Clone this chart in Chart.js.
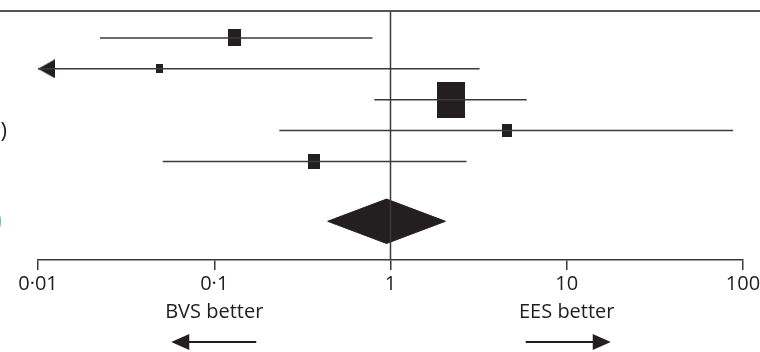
<!doctype html>
<html lang="en">
<head>
  <meta charset="utf-8">
  <title>Forest plot</title>
  <style>
    html, body { margin: 0; padding: 0; background: #fff; overflow: hidden; }
    #wrap { width: 760px; height: 352px; }
  </style>
</head>
<body>
  <div id="wrap"><canvas id="myChart"></canvas></div>
  <script src="https://cdn.jsdelivr.net/npm/chart.js"></script>
  <script>
    // one row per study, top to bottom
    const rows = [1, 2, 3, 4, 5];
    const estimate = [0.13, 0.049, 2.19, 4.56, 0.37];
    const lower = [0.0225, 0.005, 0.81, 0.234, 0.051];
    const upper = [0.79, 3.2, 5.93, 87.7, 2.7];
    const weight = [13.6, 3.9, 62.9, 8.0, 11.6];

    // pooled estimate (diamond)
    const pooledRow = 6.94;
    const pooled = { est: 0.95, lo: 0.44, hi: 2.05 };

    const tickValues = [0.01, 0.1, 1, 10, 100];
    const tickLabels = ['0·01', '0·1', '1', '10', '100'];
    const sideLabels = ['BVS better', 'EES better'];

    const INK = '#231f20';
    const LINE = '#3a3a3a';
    const TEXT = '#1e1e1e';
    const FONT = '"Open Sans", sans-serif';

    const ROW_MIN = 0.129, ROW_MAX = 8.194;
    const DIAMOND_HALF = 0.72;

    function box(w) {
      const c = document.createElement('canvas');
      c.width = Math.round(w);
      c.height = Math.round(w * 1.27);
      const g = c.getContext('2d');
      g.fillStyle = INK;
      g.fillRect(0, 0, c.width, c.height);
      return c;
    }
    function leftArrow() {
      const c = document.createElement('canvas');
      c.width = 34; c.height = 19;
      const g = c.getContext('2d');
      g.fillStyle = INK;
      g.beginPath();
      g.moveTo(17, 9.5); g.lineTo(34, 0); g.lineTo(34, 19); g.closePath();
      g.fill();
      return c;
    }

    const datasets = [];
    // line of no effect
    datasets.push({
      data: [{ x: 1, y: ROW_MIN }, { x: 1, y: ROW_MAX }],
      showLine: true, borderColor: LINE, borderWidth: 1.5, pointRadius: 0
    });
    // confidence intervals
    rows.forEach((r, i) => {
      datasets.push({
        data: [{ x: lower[i], y: r }, { x: upper[i], y: r }],
        showLine: true, borderColor: LINE, borderWidth: 1.5, pointRadius: 0
      });
    });
    // arrow for interval running off the axis
    const arrows = rows.filter((r, i) => lower[i] < tickValues[0]);
    datasets.push({
      data: arrows.map(r => ({ x: tickValues[0], y: r })),
      pointStyle: leftArrow(), pointRadius: 10
    });
    // point estimates, box area ~ weight
    datasets.push({
      data: rows.map((r, i) => ({ x: estimate[i], y: r })),
      pointStyle: weight.map(w => box(3.53 * Math.sqrt(w))),
      pointRadius: 10
    });
    // pooled diamond
    datasets.push({
      data: [
        { x: pooled.lo, y: pooledRow },
        { x: pooled.est, y: pooledRow - DIAMOND_HALF },
        { x: pooled.hi, y: pooledRow },
        { x: pooled.est, y: pooledRow + DIAMOND_HALF },
        { x: pooled.lo, y: pooledRow }
      ],
      showLine: true, fill: 'shape', backgroundColor: INK,
      borderColor: INK, borderWidth: 1, pointRadius: 0, tension: 0
    });

    const extras = {
      id: 'extras',
      afterDraw(chart) {
        const { ctx, chartArea } = chart;
        const xs = chart.scales.x;
        ctx.save();
        // top rule
        ctx.strokeStyle = '#555';
        ctx.lineWidth = 2;
        ctx.beginPath();
        ctx.moveTo(0, chartArea.top);
        ctx.lineTo(chart.width, chartArea.top);
        ctx.stroke();

        // clipped labels from the left column
        ctx.font = '22px ' + FONT;
        ctx.textAlign = 'right';
        ctx.textBaseline = 'middle';
        ctx.fillStyle = TEXT;
        ctx.fillText(')', 7, chart.scales.y.getPixelForValue(rows[3]) + 1);
        ctx.fillStyle = '#6cb8e2';
        ctx.fillText(')', 2, chart.scales.y.getPixelForValue(pooledRow));

        // side labels and arrows
        const lx = xs.getPixelForValue(tickValues[1]);
        const rx = xs.getPixelForValue(tickValues[3]);
        ctx.fillStyle = TEXT;
        ctx.textAlign = 'center';
        ctx.textBaseline = 'alphabetic';
        ctx.font = '20px ' + FONT;
        ctx.fillText(sideLabels[0], lx, 318);
        ctx.fillText(sideLabels[1], rx, 318);

        ctx.strokeStyle = INK;
        ctx.fillStyle = INK;
        ctx.lineWidth = 2;
        const ay = 342;
        [[lx, -1], [rx + 1, 1]].forEach(([cx, dir]) => {
          const tip = cx + dir * 43;
          ctx.beginPath();
          ctx.moveTo(cx - dir * 42, ay);
          ctx.lineTo(tip - dir * 14, ay);
          ctx.stroke();
          ctx.beginPath();
          ctx.moveTo(tip, ay);
          ctx.lineTo(tip - dir * 18, ay - 8);
          ctx.lineTo(tip - dir * 18, ay + 8);
          ctx.closePath();
          ctx.fill();
        });
        ctx.restore();
      }
    };

    const config = {
      type: 'scatter',
      data: { datasets },
      options: {
        responsive: true,
        maintainAspectRatio: false,
        animation: false,
        events: [],
        layout: { padding: { left: 38, right: 17, top: 10, bottom: 0 } },
        plugins: { legend: { display: false }, tooltip: { enabled: false } },
        scales: {
          x: {
            type: 'logarithmic',
            min: 0.01,
            max: 100,
            afterBuildTicks: s => { s.ticks = tickValues.map(v => ({ value: v })); },
            afterFit: s => { s.paddingLeft = 0; s.paddingRight = 0; s.height = 92; },
            border: { display: true, color: LINE, width: 1.5 },
            grid: { drawOnChartArea: false, drawTicks: true, tickLength: 10, color: LINE, lineWidth: 1.5 },
            ticks: {
              autoSkip: false,
              maxRotation: 0,
              padding: 2,
              color: TEXT,
              font: { family: FONT, size: 20 },
              callback: (v) => tickLabels[tickValues.indexOf(v)] ?? ''
            }
          },
          y: {
            type: 'linear',
            reverse: true,
            min: ROW_MIN,
            max: ROW_MAX,
            display: false
          }
        }
      },
      plugins: [extras]
    };

    new Chart(document.getElementById('myChart'), config);
  </script>
</body>
</html>
